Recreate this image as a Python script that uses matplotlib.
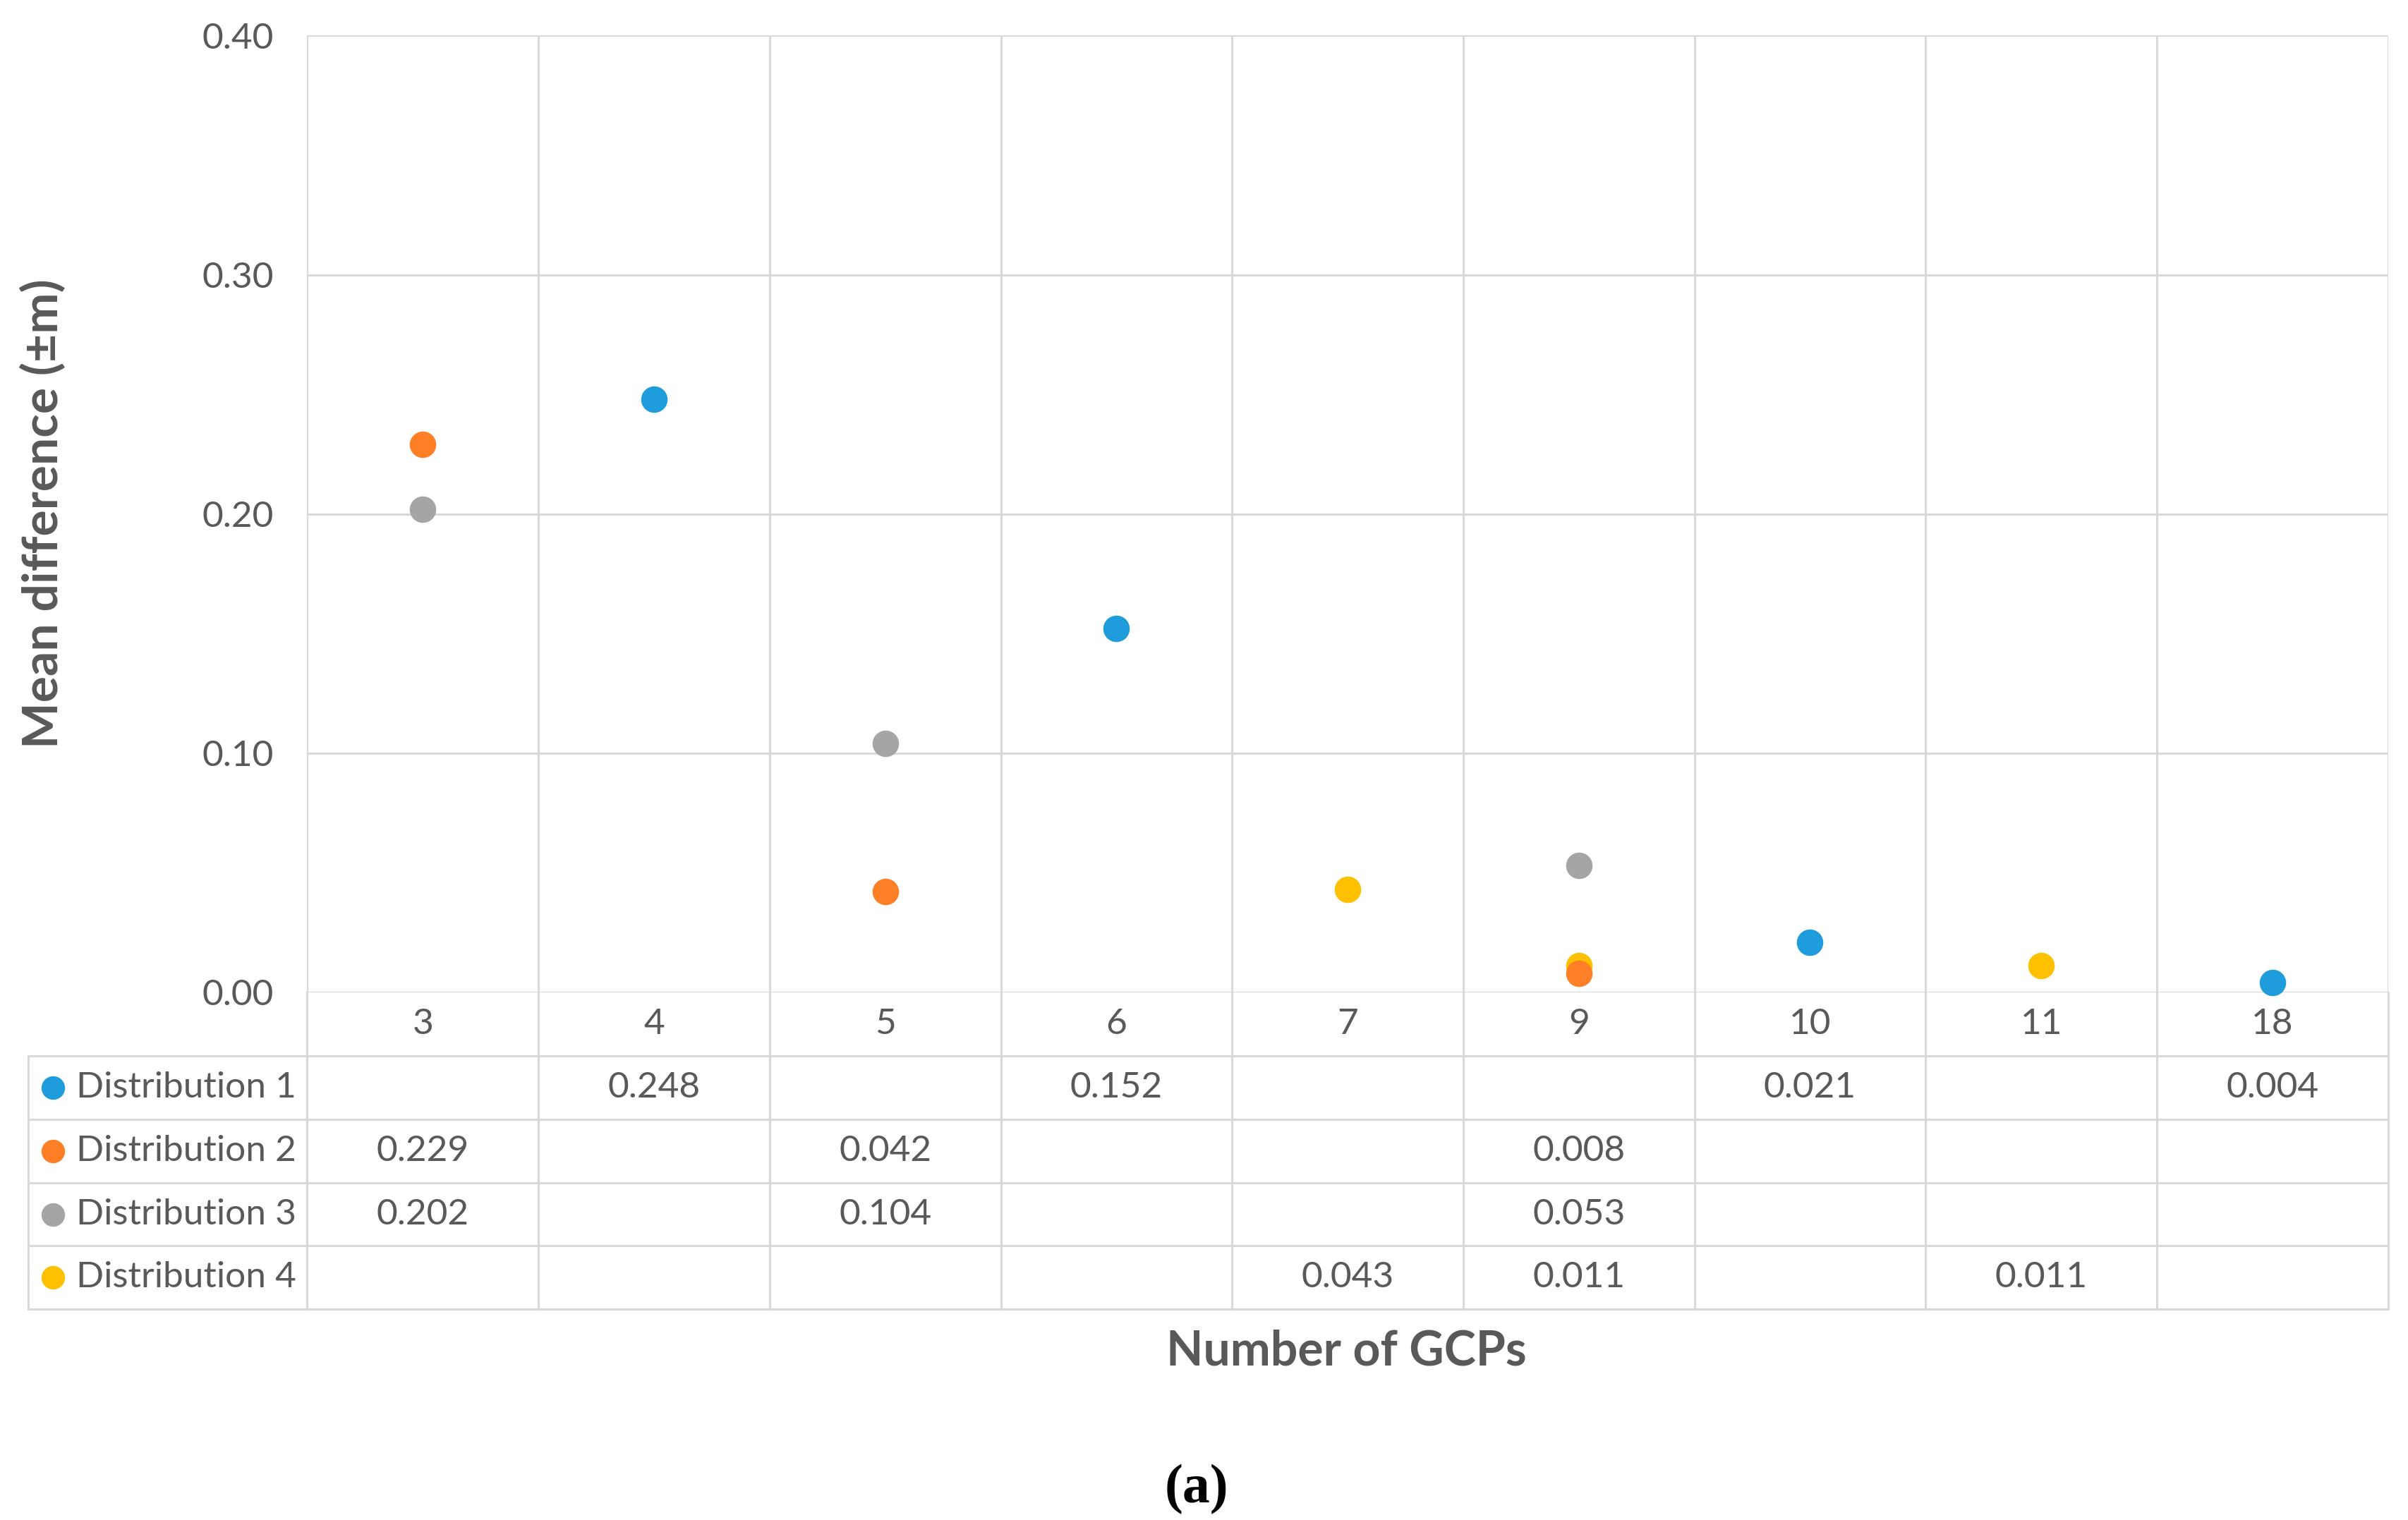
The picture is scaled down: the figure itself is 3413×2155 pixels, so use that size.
import numpy as np
import matplotlib.pyplot as plt

plt.rcParams['font.family'] = ['Lato', 'DejaVu Sans']

# data
gcps = ['3', '4', '5', '6', '7', '9', '10', '11', '18']
series_names = ['Distribution 1', 'Distribution 2', 'Distribution 3', 'Distribution 4']
dist1 = [None, 0.248, None, 0.152, None, None, 0.021, None, 0.004]
dist2 = [0.229, None, 0.042, None, None, 0.008, None, None, None]
dist3 = [0.202, None, 0.104, None, None, 0.053, None, None, None]
dist4 = [None, None, None, None, 0.043, 0.011, None, 0.011, None]
colors = ['#1F9CDB', '#FF7F27', '#A5A5A5', '#FFC000']
y_ticks = [0.0, 0.1, 0.2, 0.3, 0.4]

series = [dist1, dist2, dist3, dist4]
txt_col = '#595959'
grid_col = '#D9D9D9'

fig = plt.figure(figsize=(3413 / 200, 2155 / 200), dpi=200)
ax = fig.add_axes([0.1276, 0.3472, 0.9917 - 0.1276, 0.9766 - 0.3472])

x = np.arange(len(gcps))
ax.set_xlim(-0.5, len(gcps) - 0.5)
ax.set_ylim(0, 0.4)

# points, drawn in reverse so distribution 1 ends up on top
for vals, c in list(zip(series, colors))[::-1]:
    xs = [i for i, v in enumerate(vals) if v is not None]
    ys = [v for v in vals if v is not None]
    ax.plot(xs, ys, 'o', color=c, markersize=12.5, zorder=3, clip_on=False)

# grid
ax.set_yticks(y_ticks)
ax.set_yticklabels([f'{t:.2f}' for t in y_ticks], fontsize=18.5, color=txt_col)
ax.tick_params(axis='y', length=0, pad=17)
ax.set_xticks([])
for s in ax.spines.values():
    s.set_visible(False)
for t in y_ticks:
    ax.axhline(t, color=grid_col, lw=1.1, zorder=1)
for b in np.arange(-0.5, len(gcps), 1.0):
    ax.axvline(b, color=grid_col, lw=1.1, zorder=1)

# data table below the axes
tr = ax.get_xaxis_transform()
row_h = 0.0663
left = -1.707
right = len(gcps) - 0.5
bottom = -5 * row_h
for k in range(1, 6):
    ax.plot([left, right], [-k * row_h] * 2, color=grid_col, lw=1.1,
            transform=tr, clip_on=False)
for b in np.arange(-0.5, len(gcps), 1.0):
    ax.plot([b, b], [0, bottom], color=grid_col, lw=1.1, transform=tr, clip_on=False)
ax.plot([left, left], [-row_h, bottom], color=grid_col, lw=1.1, transform=tr,
        clip_on=False)

for i, g in enumerate(gcps):
    ax.text(i, -0.5 * row_h, g, ha='center', va='center', fontsize=18.5,
            color=txt_col, transform=tr)

for r, (name, vals, c) in enumerate(zip(series_names, series, colors)):
    yc = -(r + 1.5) * row_h
    ax.plot([-1.6], [yc], 'o', color=c, markersize=11, transform=tr, clip_on=False)
    ax.text(-1.5, yc, name, ha='left', va='center', fontsize=18.5, color=txt_col,
            transform=tr)
    for i, v in enumerate(vals):
        if v is not None:
            ax.text(i, yc, f'{v:.3f}', ha='center', va='center', fontsize=18.5,
                    color=txt_col, transform=tr)

# axis titles
fig.text(0.018, (0.3472 + 0.9766) / 2, 'Mean difference (\u00b1m)', rotation=90,
         ha='center', va='center', fontsize=25, fontweight='bold', color=txt_col)
fig.text(0.559, 0.1107, 'Number of GCPs', ha='center', va='center', fontsize=24.5,
         fontweight='bold', color=txt_col)
fig.text(0.497, 0.0203, '(a)', ha='center', va='center', fontsize=28,
         fontweight='bold', family=['Liberation Serif', 'DejaVu Serif'], color='black')

fig.savefig('out.png', dpi=200, facecolor='white')
